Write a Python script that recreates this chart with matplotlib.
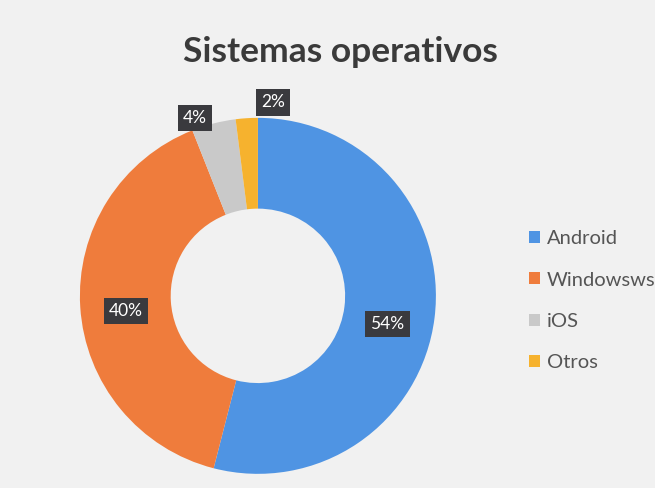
import matplotlib.pyplot as plt
import numpy as np

categories = ['Android', 'Windowsws', 'iOS', 'Otros']
values = [54, 40, 4, 2]
colors = ['#4f94e3', '#ef7c3c', '#c9c9c9', '#f6b22e']

plt.rcParams['font.family'] = ['Lato', 'DejaVu Sans']

fig = plt.figure(figsize=(6.55, 4.88), dpi=100)
fig.patch.set_facecolor('#f1f1f1')

ax = fig.add_axes([0.122, 0.029, 0.5435, 0.7295])
wedges, _ = ax.pie(values, colors=colors, startangle=90, counterclock=False,
                   radius=1.0, wedgeprops=dict(width=0.51, linewidth=0))
ax.set_xlim(-1, 1)
ax.set_ylim(-1, 1)
ax.set_aspect('equal')
ax.axis('off')

# label placement: radius and angle shift per slice
lab_r = [0.745, 0.745, 1.06, 1.09]
lab_shift = [-5, 3, 5, -8]
for w, v, r, s in zip(wedges, values, lab_r, lab_shift):
    ang = np.deg2rad((w.theta1 + w.theta2) / 2 + s)
    ax.text(r * np.cos(ang), r * np.sin(ang), f'{v}%', ha='center', va='center',
            color='white', fontsize=12.5,
            bbox=dict(boxstyle='square,pad=0.3', fc='#3a3a3e', ec='none'))

fig.text(0.52, 0.893, 'Sistemas operativos', ha='center', va='center',
         fontsize=25.5, fontweight='bold', color='#3a3a3a')

fig.legend(wedges, categories, loc='center left', bbox_to_anchor=(0.78, 0.384),
           frameon=False, fontsize=14.5, handlelength=0.55, handleheight=0.55,
           handletextpad=0.35, labelspacing=1.2, labelcolor='#555555')

fig.savefig('out.png', dpi=100, facecolor=fig.get_facecolor())
